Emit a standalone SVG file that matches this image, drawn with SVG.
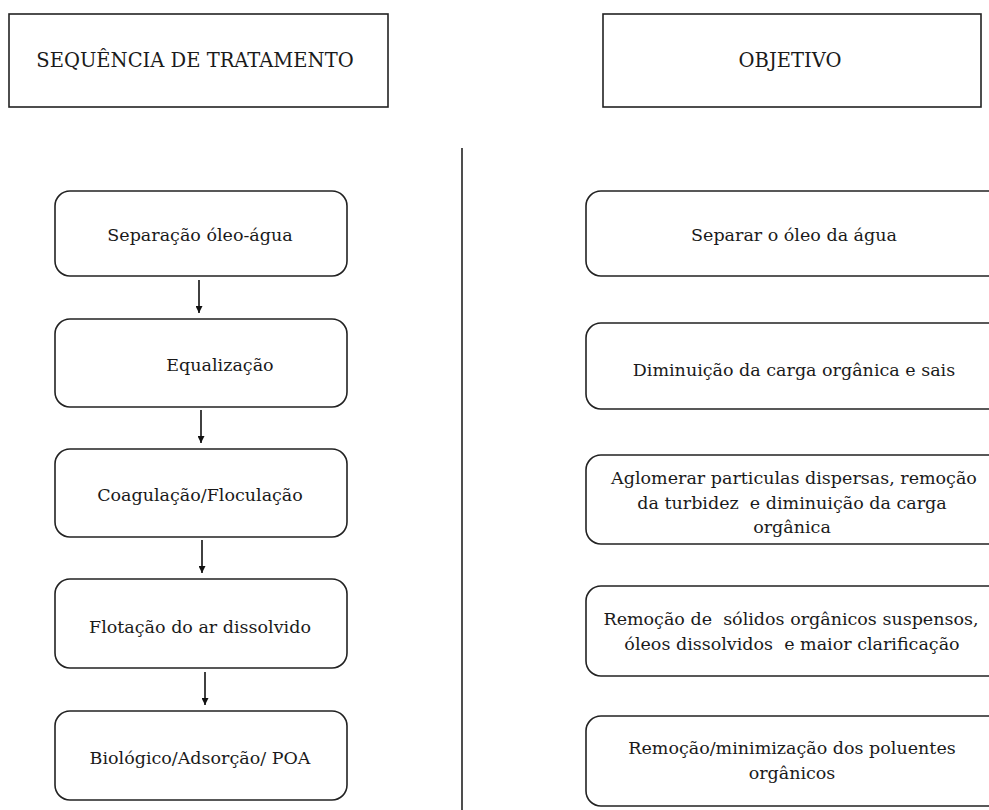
<svg xmlns="http://www.w3.org/2000/svg" width="989" height="810" viewBox="0 0 989 810">
<style>
.box{fill:#fff;stroke:#222;stroke-width:1.6}
.t{font-family:"DejaVu Serif","Liberation Serif",serif;font-size:17.5px;fill:#1a1a1a;text-anchor:middle;white-space:pre}
.h{font-family:"DejaVu Serif","Liberation Serif",serif;font-size:19.5px;fill:#1a1a1a;text-anchor:middle}
.c{stroke:#111;stroke-width:1.6;fill:none}
</style>
<defs>
<marker id="ah" viewBox="0 0 10 10" refX="10" refY="5" markerWidth="9" markerHeight="7" markerUnits="userSpaceOnUse" orient="auto">
<path d="M0,0 L10,5 L0,10 z" fill="#111"/>
</marker>
</defs>
<rect width="989" height="810" fill="#fff"/>
<g id="hdr-left"><rect class="box" x="9" y="14" width="379" height="93"/><text class="h" x="195" y="67">SEQUÊNCIA DE TRATAMENTO</text></g>
<g id="hdr-right"><rect class="box" x="603" y="14" width="378" height="93"/><text class="h" x="790" y="67">OBJETIVO</text></g>
<g id="divider"><line x1="462" y1="148" x2="462" y2="810" stroke="#222" stroke-width="1.6"/></g>
<g id="s1"><rect class="box" x="55" y="191" width="292" height="85" rx="15"/><text class="t" x="200" y="241">Separação óleo-água</text></g>
<g id="s2"><rect class="box" x="55" y="319" width="292" height="88" rx="15"/><text class="t" x="220" y="371">Equalização</text></g>
<g id="s3"><rect class="box" x="55" y="449" width="292" height="88" rx="15"/><text class="t" x="200" y="501">Coagulação/Floculação</text></g>
<g id="s4"><rect class="box" x="55" y="579" width="292" height="89" rx="15"/><text class="t" x="200" y="633">Flotação do ar dissolvido</text></g>
<g id="s5"><rect class="box" x="55" y="711" width="292" height="89" rx="15"/><text class="t" x="200" y="764">Biológico/Adsorção/ POA</text></g>
<g id="o1"><rect class="box" x="586" y="191" width="420" height="85" rx="15"/><text class="t" x="794" y="241">Separar o óleo da água</text></g>
<g id="o2"><rect class="box" x="586" y="323" width="420" height="86" rx="15"/><text class="t" x="794" y="376">Diminuição da carga orgânica e sais</text></g>
<g id="o3"><rect class="box" x="586" y="455" width="420" height="89" rx="15"/><text class="t" x="794" y="484">Aglomerar particulas dispersas, remoção</text><text class="t" x="792" y="509">da turbidez  e diminuição da carga</text><text class="t" x="792" y="533">orgânica</text></g>
<g id="o4"><rect class="box" x="586" y="586" width="420" height="90" rx="15"/><text class="t" x="791" y="625">Remoção de  sólidos orgânicos suspensos,</text><text class="t" x="792" y="650">óleos dissolvidos  e maior clarificação</text></g>
<g id="o5"><rect class="box" x="586" y="716" width="420" height="90" rx="15"/><text class="t" x="792" y="754">Remoção/minimização dos poluentes</text><text class="t" x="792" y="779">orgânicos</text></g>
<g id="connectors">
<line class="c" x1="199" y1="280" x2="199" y2="313" marker-end="url(#ah)"/>
<line class="c" x1="201" y1="410" x2="201" y2="443" marker-end="url(#ah)"/>
<line class="c" x1="202" y1="540" x2="202" y2="573" marker-end="url(#ah)"/>
<line class="c" x1="205" y1="672" x2="205" y2="705" marker-end="url(#ah)"/>
</g>
</svg>
